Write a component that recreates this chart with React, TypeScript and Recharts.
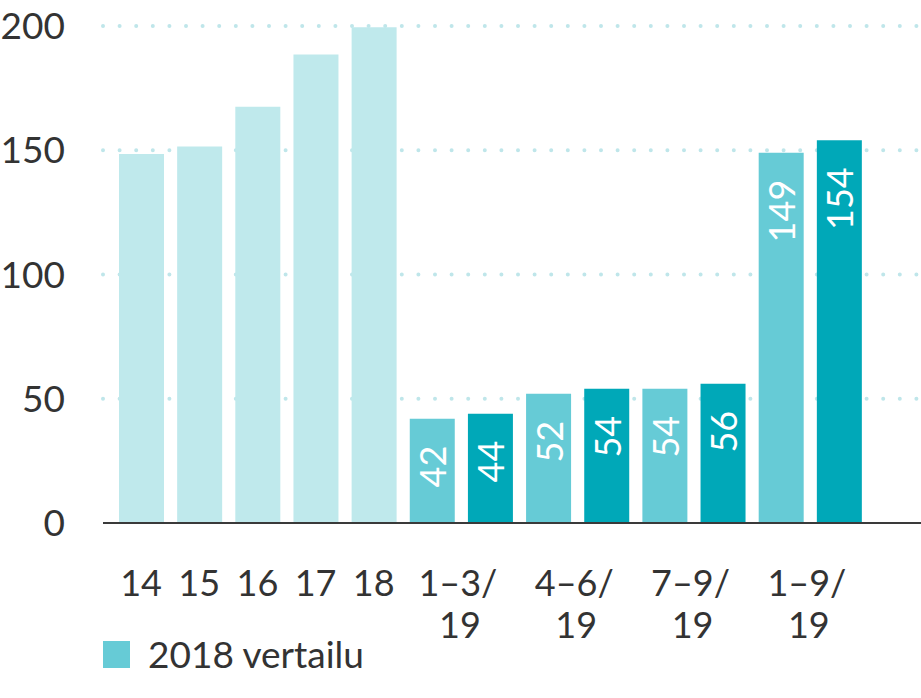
import React from "react";
import { BarChart, Bar, XAxis, YAxis, CartesianGrid, Cell, LabelList, Legend } from "recharts";

const years = ["14", "15", "16", "17", "18"];
const yearValues = [148.5, 151.5, 167.5, 188.5, 199.5];
const periods = ["1–3/19", "4–6/19", "7–9/19", "1–9/19"];
const compare2018 = [42, 52, 54, 149];
const actual2019 = [44, 54, 56, 154];
const yTicks = [0, 50, 100, 150, 200];

const COLORS = { year: "#bfe9ec", cmp: "#66cbd6", act: "#00a8b8" };
const FONT = "Lato, 'Open Sans', sans-serif";

type Row = { key: string; value: number; kind: "year" | "cmp" | "act"; label: string };

const rows: Row[] = [
  ...years.map((y, i) => ({ key: y, value: yearValues[i], kind: "year" as const, label: y })),
  ...periods.flatMap((p, i) => [
    { key: p + "-2018", value: compare2018[i], kind: "cmp" as const, label: p },
    { key: p + "-2019", value: actual2019[i], kind: "act" as const, label: "" },
  ]),
];

function XTick(props: any) {
  const { x, y, payload, index } = props;
  const row = rows[index];
  if (!row || !row.label) return null;
  if (row.kind === "year") {
    return (
      <text x={x} y={y + 73} textAnchor="middle" fill="#333" fontSize={36} fontFamily={FONT}>
        {row.label}
      </text>
    );
  }
  const [a, b] = row.label.split("/");
  const cx = x + (payload.offset || 29);
  return (
    <g>
      <text x={cx - 3} y={y + 73} textAnchor="middle" fill="#333" fontSize={36} fontFamily={FONT}>
        {a + "/"}
      </text>
      <text x={cx - 1} y={y + 115} textAnchor="middle" fill="#333" fontSize={36} fontFamily={FONT}>
        {b}
      </text>
    </g>
  );
}

function ValueLabel(props: any) {
  const { x, y, width, value, index } = props;
  const row = rows[index];
  if (!row || row.kind === "year") return null;
  const cx = x + width / 2;
  const ty = y + 27;
  return (
    <text
      x={cx}
      y={ty}
      transform={`rotate(-90, ${cx}, ${ty})`}
      textAnchor="end"
      dominantBaseline="central"
      fill="#fff"
      fontSize={36}
      fontFamily={FONT}
    >
      {value}
    </text>
  );
}

function DotLine(props: any) {
  const { x1, x2, y1, index } = props;
  if (y1 >= 515) return <g key={`g-${index}`} />;
  return (
    <line
      key={`g-${index}`}
      x1={x1}
      x2={x2}
      y1={y1}
      y2={y1}
      stroke="#bfe6ea"
      strokeWidth={4}
      strokeDasharray="0 16.6"
      strokeLinecap="round"
    />
  );
}

function LegendBox() {
  return (
    <div style={{ display: "flex", alignItems: "center", paddingLeft: 103, fontFamily: FONT }}>
      <span style={{ width: 27, height: 27, background: COLORS.cmp, display: "inline-block", marginRight: 18 }} />
      <span style={{ fontSize: 37, color: "#333", lineHeight: "44px" }}>2018 vertailu</span>
    </div>
  );
}

export default function App() {
  return (
    <div style={{ position: "absolute", left: 0, top: 0, width: 921, height: 698, background: "#fff" }}>
      <BarChart
        width={921}
        height={698}
        data={rows}
        margin={{ top: 26, right: 0, left: 0, bottom: 16 }}
        barSize={45}
      >
        <CartesianGrid vertical={false} horizontal={DotLine as any} />
        <XAxis
          dataKey="key"
          type="category"
          interval={0}
          height={115}
          tickLine={false}
          tickSize={0}
          tickMargin={0}
          axisLine={{ stroke: "#3a3a3a", strokeWidth: 2 }}
          padding={{ left: 9, right: 53 }}
          tick={<XTick />}
        />
        <YAxis
          domain={[0, 200]}
          ticks={yTicks}
          width={103}
          axisLine={false}
          tickLine={false}
          tickSize={0}
          tickMargin={38}
          tick={{ fill: "#333", fontSize: 37, fontFamily: FONT }}
        />
        <Legend verticalAlign="bottom" align="left" content={<LegendBox />} wrapperStyle={{ bottom: 22 }} />
        <Bar dataKey="value" isAnimationActive={false}>
          {rows.map((r, i) => (
            <Cell key={`c-${i}`} fill={COLORS[r.kind]} />
          ))}
          <LabelList dataKey="value" content={<ValueLabel />} />
        </Bar>
      </BarChart>
    </div>
  );
}
